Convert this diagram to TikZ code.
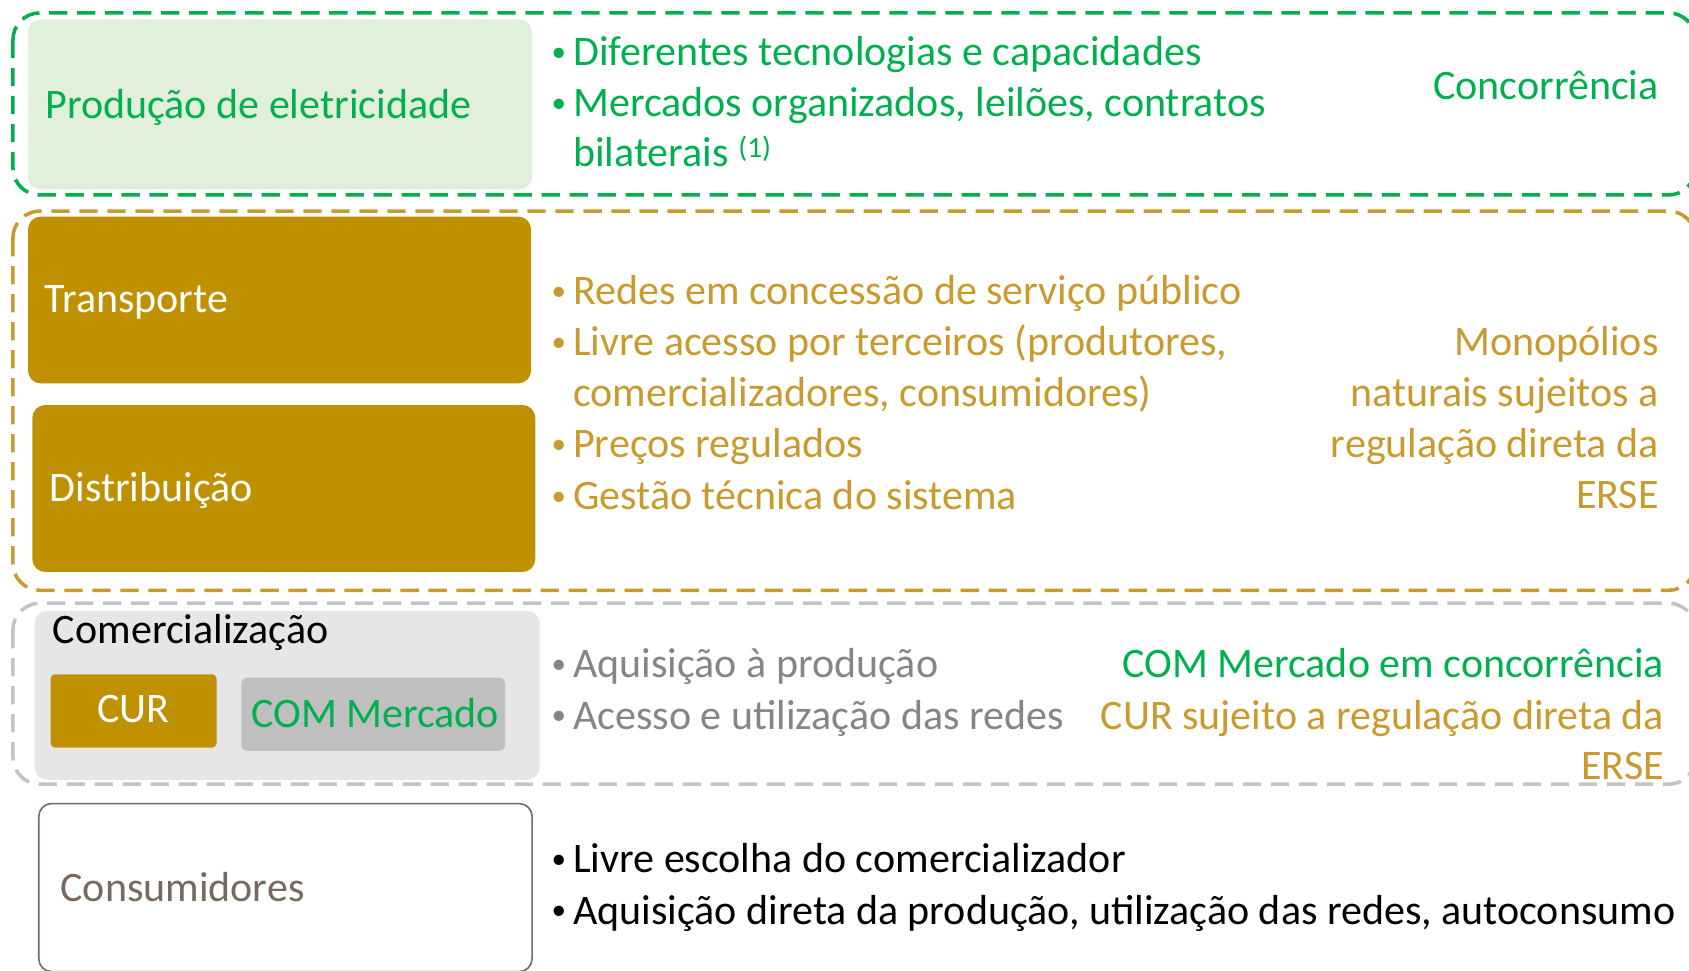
\documentclass[tikz,border=0pt]{standalone}
\usepackage{fontspec}
\setmainfont{Carlito}
\definecolor{cgreen}{HTML}{00B050}
\definecolor{clgreen}{HTML}{E2EFDA}
\definecolor{cgoldbox}{HTML}{BF9000}
\definecolor{cgold}{HTML}{C99A2E}
\definecolor{cgray}{HTML}{858585}
\definecolor{cgraydash}{HTML}{C3C3C3}
\definecolor{clgray}{HTML}{E6E6E6}
\definecolor{cmgray}{HTML}{BFBFBF}
\definecolor{cbrown}{HTML}{766A5E}
\begin{document}
\begin{tikzpicture}[x=1pt,y=-1pt,
  frame/.style={line width=3.3pt,dash pattern=on 17pt off 9pt,rounded corners=25pt},
  boxn/.style={anchor=north west,inner sep=0pt,outer sep=0pt,rounded corners=12pt},
  txt/.style={font=\fontsize{39}{47}\selectfont,inner sep=0pt,anchor=base west},
  rtxt/.style={font=\fontsize{39}{47}\selectfont,inner sep=0pt,anchor=base east},
  bul/.style={font=\fontsize{27}{30}\selectfont,inner sep=0pt,anchor=base west,yshift=4pt}
]
\useasboundingbox (0,0) rectangle (1568,901);
% frames
\draw[frame,cgreen] (12,12) rectangle (1574,181);
\draw[frame,cgold] (12,196) rectangle (1574,548);
\draw[frame,cgraydash] (12,560) rectangle (1574,728);
% boxes
\node[boxn,fill=clgreen,minimum width=468pt,minimum height=158pt] (prod) at (26,18) {};
\node[boxn,fill=cgoldbox,minimum width=467pt,minimum height=155pt] (transp) at (26,201) {};
\node[boxn,fill=cgoldbox,minimum width=467pt,minimum height=155pt] (distr) at (30,376) {};
\node[boxn,fill=clgray,minimum width=469pt,minimum height=157pt] (comb) at (32,567) {};
\node[boxn,fill=cgoldbox,rounded corners=4pt,minimum width=154pt,minimum height=68pt] (cur) at (47,626) {};
\node[boxn,fill=cmgray,rounded corners=6pt,minimum width=245pt,minimum height=68pt] (comm) at (224,629) {};
\node[boxn,draw=cbrown,line width=1.5pt,minimum width=458pt,minimum height=156pt] (cons) at (36,746) {};
% box labels
\node[txt,text=cgreen] (prodl) at (42,110) {Produção de eletricidade};
\node[txt,text=white] (transpl) at (41,290) {Transporte};
\node[txt,text=white] (distrl) at (46,466) {Distribuição};
\node[txt,text=black] (coml) at (49,597) {Comercialização};
\node[txt,text=white,anchor=base] (curl) at (cur.center |- 0,671) {CUR};
\node[txt,text=cgreen] (comml) at (233,675) {COM Mercado};
\node[txt,text=cbrown] (consl) at (56,837) {Consumidores};
% green bullets
\node[bul,text=cgreen] (g1b) at (512,61) {•};
\node[txt,text=cgreen] (g1) at (532,61) {Diferentes tecnologias e capacidades};
\node[bul,text=cgreen] (g2b) at (512,108) {•};
\node[txt,text=cgreen] (g2) at (532,108) {Mercados organizados, leilões, contratos};
\node[txt,text=cgreen] (g3) at (532,155) {bilaterais \textsuperscript{(1)}};
\node[rtxt,text=cgreen] (gr) at (1540,92) {Concorrência};
% gold bullets
\node[bul,text=cgold] (o1b) at (512,283) {•};
\node[txt,text=cgold] (o1) at (532,283) {Redes em concessão de serviço público};
\node[bul,text=cgold] (o2b) at (512,330) {•};
\node[txt,text=cgold] (o2) at (532,330) {Livre acesso por terceiros (produtores,};
\node[txt,text=cgold] (o3) at (532,377) {comercializadores, consumidores)};
\node[bul,text=cgold] (o4b) at (512,425) {•};
\node[txt,text=cgold] (o4) at (532,425) {Preços regulados};
\node[bul,text=cgold] (o5b) at (512,473) {•};
\node[txt,text=cgold] (o5) at (532,473) {Gestão técnica do sistema};
\node[rtxt,text=cgold] (or1) at (1540,330) {Monopólios};
\node[rtxt,text=cgold] (or2) at (1540,377) {naturais sujeitos a};
\node[rtxt,text=cgold] (or3) at (1540,425) {regulação direta da};
\node[rtxt,text=cgold] (or4) at (1540,472) {ERSE};
% gray bullets
\node[bul,text=cgray] (c1b) at (512,629) {•};
\node[txt,text=cgray] (c1) at (532,629) {Aquisição à produção};
\node[bul,text=cgray] (c2b) at (512,677) {•};
\node[txt,text=cgray] (c2) at (532,677) {Acesso e utilização das redes};
\node[rtxt,text=cgreen] (cr1) at (1545,629) {COM Mercado em concorrência};
\node[rtxt,text=cgold] (cr2) at (1545,677) {CUR sujeito a regulação direta da};
\node[rtxt,text=cgold] (cr3) at (1545,724) {ERSE};
% consumer bullets
\node[bul,text=black] (k1b) at (512,810) {•};
\node[txt,text=black] (k1) at (532,810) {Livre escolha do comercializador};
\node[bul,text=black] (k2b) at (512,858) {•};
\node[txt,text=black] (k2) at (532,858) {Aquisição direta da produção, utilização das redes, autoconsumo};
\end{tikzpicture}
\end{document}
